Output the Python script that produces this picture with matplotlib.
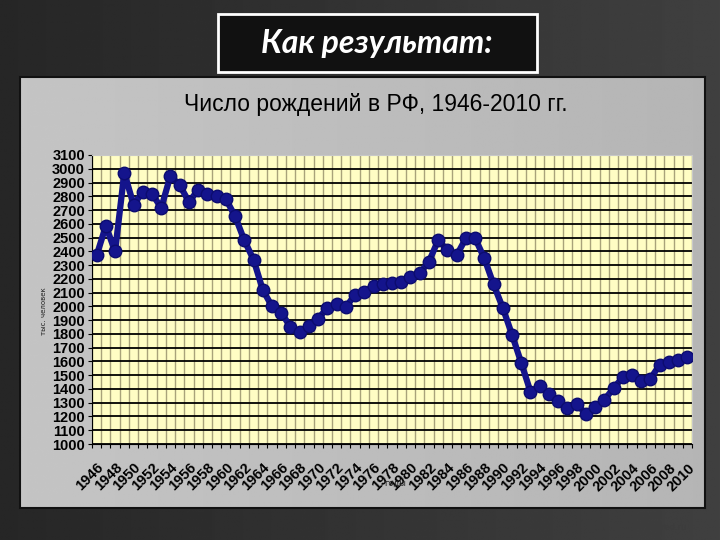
import matplotlib.pyplot as plt
import numpy as np
from matplotlib.patches import Rectangle

# число рождений в РФ, тыс. человек
years = list(range(1946, 2011))
births = [2370, 2585, 2400, 2970, 2740, 2830, 2820, 2715, 2950, 2880,
          2760, 2845, 2820, 2800, 2780, 2655, 2480, 2340, 2120, 2000,
          1955, 1850, 1815, 1855, 1910, 1990, 2015, 1995, 2085, 2105,
          2150, 2160, 2170, 2175, 2210, 2240, 2325, 2480, 2410, 2370,
          2495, 2495, 2350, 2160, 1990, 1795, 1590, 1380, 1420, 1365,
          1310, 1260, 1290, 1220, 1270, 1320, 1405, 1485, 1505, 1455,
          1475, 1575, 1595, 1610, 1630]
label_years = years[::2]
y_ticks = list(range(1000, 3101, 100))

W, H = 720, 540
fig = plt.figure(figsize=(7.2, 5.4), dpi=100)
fig.patch.set_facecolor('#2a2a2a')

# background slide gradient
bg = fig.add_axes([0, 0, 1, 1], zorder=-10)
grad = np.linspace(0.15, 0.25, 256)[None, :] * np.ones((64, 1))
bg.imshow(grad, cmap='gray', vmin=0, vmax=1, aspect='auto', extent=[0, 1, 0, 1])
bg.set_axis_off()

def fx(px):
    return px / W

def fy(py):
    return 1 - py / H

# title box
fig.patches.append(Rectangle((fx(218), fy(72)), fx(537) - fx(218), fy(14) - fy(72),
                             transform=fig.transFigure, facecolor='#111111',
                             edgecolor='white', linewidth=2, zorder=1))
fig.text(fx(377), fy(44), 'Как результат:', color='white', fontsize=23,
         family=['Lato', 'DejaVu Sans'], fontweight='bold', fontstyle='italic',
         ha='center', va='center', zorder=2)

# chart panel
panel = fig.add_axes([fx(20), fy(508), fx(705) - fx(20), fy(77) - fy(508)], zorder=0)
pg = np.linspace(0.77, 0.71, 256)[None, :] * np.ones((32, 1))
panel.imshow(pg, cmap='gray', vmin=0, vmax=1, aspect='auto', extent=[0, 1, 0, 1])
panel.set_xticks([])
panel.set_yticks([])
for s in panel.spines.values():
    s.set_color('#111111')
    s.set_linewidth(1.5)

fig.text(fx(376), fy(105), 'Число рождений в РФ, 1946-2010 гг.', fontsize=16.5,
         family=['Liberation Sans', 'DejaVu Sans'], color='black',
         ha='center', va='center', zorder=3)

ax = fig.add_axes([fx(92), fy(444), fx(692) - fx(92), fy(155) - fy(444)], zorder=2)
ax.set_facecolor('#fffdc4')
ax.plot(years, births, color='#14148c', linewidth=4.5, marker='o',
        markersize=9, markerfacecolor='#14148c', markeredgecolor='#0c0c70',
        zorder=3)

ax.set_xlim(1945.5, 2010.5)
ax.set_ylim(1000, 3100)
ax.set_yticks(y_ticks)
ax.set_yticklabels([str(v) for v in y_ticks])
ax.set_xticks(label_years)
ax.set_xticklabels([str(v) for v in label_years], rotation=45, ha='right',
                   va='top', rotation_mode='anchor')
ax.set_xticks(np.arange(1945.5, 2011, 1), minor=True)

ax.tick_params(axis='x', which='major', length=0, pad=12)
ax.tick_params(axis='x', which='minor', length=3, direction='out', width=0.8)
ax.tick_params(axis='y', length=3, width=0.8, pad=2)
for lab in ax.get_xticklabels() + ax.get_yticklabels():
    lab.set_family(['Liberation Sans Narrow', 'Liberation Sans', 'DejaVu Sans'])
    lab.set_fontweight('bold')
    lab.set_fontsize(10.5)

ax.grid(True, axis='x', which='minor', color='#a8a27a', linewidth=1, zorder=1)
ax.grid(True, axis='y', which='major', color='black', linewidth=1.3, zorder=1)
ax.set_axisbelow(True)
ax.spines['left'].set_color('black')
ax.spines['bottom'].set_color('black')
ax.spines['top'].set_color('#c8c8c8')
ax.spines['right'].set_color('#c8c8c8')

fig.text(fx(44), fy(311), 'тыс. человек', fontsize=5, rotation=90,
         ha='center', va='center', color='#222222', zorder=3)
fig.text(fx(395), fy(483), 'годы', fontsize=6, ha='center', va='center',
         color='#222222', zorder=3)
fig.text(fx(660), fy(527), 'MyShared.ru', fontsize=6, ha='center', va='center',
         color='#3c3c3c', zorder=3)

fig.savefig('out.png', dpi=100, facecolor=fig.get_facecolor())
